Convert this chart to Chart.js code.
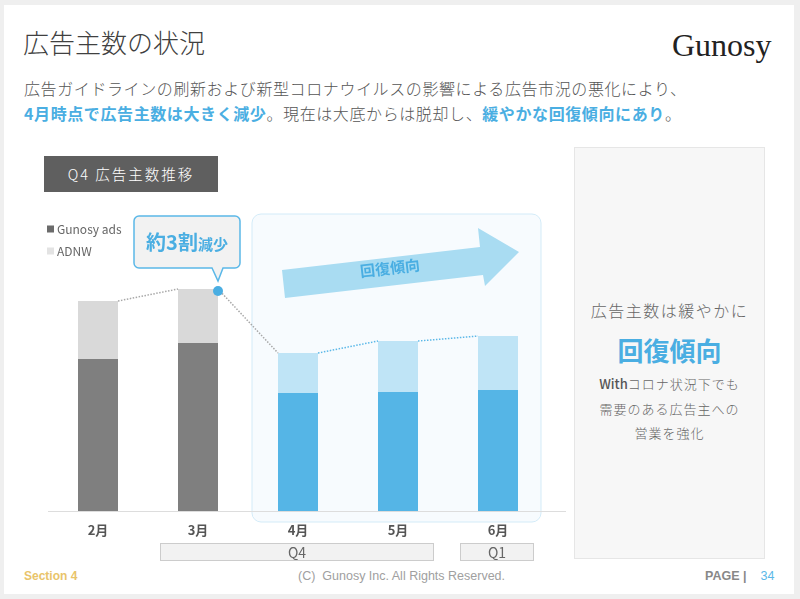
<!DOCTYPE html>
<html lang="ja">
<head>
<meta charset="utf-8">
<title>広告主数の状況</title>
<script src="https://cdn.jsdelivr.net/npm/chart.js@4.4.1/dist/chart.umd.min.js"></script>
<style>
    html, body { margin: 0; padding: 0; }
    body {
        width: 800px; height: 599px; position: relative; overflow: hidden;
        background: #efefef;
        font-family: "Noto Sans CJK JP", "Noto Sans", sans-serif;
    }
    #page { position: absolute; left: 4px; top: 5px; width: 790px; height: 589px; background: #fff; }
    .abs { position: absolute; white-space: nowrap; }
    #title { left: 23px; top: 24px; font-size: 26px; line-height: 36px; color: #404040; font-weight: 300; }
    #logo { left: 672px; top: 25px; font-family: "Liberation Serif", serif; font-size: 32px; line-height: 40px; color: #222; }
    .lead { left: 24px; font-size: 16px; line-height: 22px; color: #555; letter-spacing: 0.6px; font-weight: 300; }
    .lead b { color: #4aaee2; font-weight: bold; }
    #subtitle {
        left: 44px; top: 156px; width: 174px; height: 36px; background: #5f5f5f;
        color: #fff; font-size: 14.5px; line-height: 36px; text-align: center; letter-spacing: 2px; font-weight: 300;
    }
    #side {
        left: 574px; top: 147px; width: 189px; height: 410px;
        background: #f7f7f7; border: 1px solid #e6e6e6; text-align: center; color: #555;
    }
    #side .s1 { position: absolute; left: 0; right: 0; top: 150px; font-size: 16px; line-height: 24px; letter-spacing: 1.5px; color: #666; font-weight: 300; }
    #side .s2 { position: absolute; left: 0; right: 0; top: 185px; font-size: 26px; line-height: 34px; font-weight: bold; color: #4aaee2; }
    #side .s3 { position: absolute; left: 0; right: 0; top: 224px; font-size: 13px; line-height: 24.5px; letter-spacing: 1px; color: #666; font-weight: 300; }
    #side .s3 b { color: #555; letter-spacing: 0; font-weight: 500; }
    #foot-sec { left: 24px; top: 568px; font-size: 12px; line-height: 16px; font-weight: bold; color: #e9c46a; font-family: "Liberation Sans Narrow", "Liberation Sans", sans-serif; }
    #foot-copy { left: 298px; top: 568px; font-size: 12.5px; line-height: 16px; color: #a0a0a0; font-family: "Liberation Sans Narrow", "Liberation Sans", sans-serif; }
    #foot-page { left: 705px; top: 568px; font-size: 12.5px; line-height: 16px; color: #888; font-weight: bold; font-family: "Liberation Sans Narrow", "Liberation Sans", sans-serif; }
    #foot-page span { color: #5bb8e8; font-weight: normal; margin-left: 14px; }
    #chart { position: absolute; left: 0; top: 0; width: 800px; height: 599px; }
</style>
</head>
<body>
<div id="page"></div>
<div class="abs" id="title">広告主数の状況</div>
<div class="abs" id="logo">Gunosy</div>
<div class="abs lead" style="top:77px">広告ガイドラインの刷新および新型コロナウイルスの影響による広告市況の悪化により、</div>
<div class="abs lead" style="top:102px"><b>4月時点で広告主数は大きく減少</b>。現在は大底からは脱却し、<b>緩やかな回復傾向にあり</b>。</div>
<div class="abs" id="subtitle">Q4 広告主数推移</div>
<div class="abs" id="side">
    <div class="s1">広告主数は緩やかに</div>
    <div class="s2">回復傾向</div>
    <div class="s3"><b>With</b>コロナ状況下でも<br>需要のある広告主への<br>営業を強化</div>
</div>
<div class="abs" id="foot-sec">Section 4</div>
<div class="abs" id="foot-copy">(C)&nbsp;&nbsp;Gunosy Inc. All Rights Reserved.</div>
<div class="abs" id="foot-page">PAGE |<span>34</span></div>
<canvas id="chart" width="800" height="599"></canvas>

<script>
// Chart data (index)
var months       = ['2月', '3月', '4月', '5月', '6月'];
var gunosyAds    = [152, 168, 118, 119, 121];
var adnw         = [58, 54, 40, 51, 54];
var quarterNames = ['Q4', 'Q1'];
var quarterFrom  = [1, 4];
var quarterTo    = [3, 4];

// Colours: grey before the drop, blue for the recovery months
var darkColors  = ['#7f7f7f', '#7f7f7f', '#55b5e6', '#55b5e6', '#55b5e6'];
var lightColors = ['#d9d9d9', '#d9d9d9', '#bfe4f6', '#bfe4f6', '#bfe4f6'];
var legendColors = ['#6b6b6b', '#e3e3e3'];
var BLUE = '#4aaee2';

/**
 * Draws the slide decorations around the bars
 */
var decorPlugin = {
    id: 'decor',
    beforeDatasetsDraw(chart) {
        var ctx = chart.ctx;
        var x = chart.scales.x;
        var area = chart.chartArea;

        ctx.save();

        // Recovery frame behind Apr - Jun
        var left = x.getPixelForValue(2) - 46;
        var right = x.getPixelForValue(4) + 43;
        ctx.beginPath();
        ctx.roundRect(left, 214, right - left, 308, 9);
        ctx.fillStyle = '#f7fbfe';
        ctx.fill();
        ctx.strokeStyle = '#d3ebf8';
        ctx.lineWidth = 1;
        ctx.stroke();

        // Arrow
        ctx.beginPath();
        ctx.moveTo(282, 270);
        ctx.lineTo(480, 247);
        ctx.lineTo(478, 228);
        ctx.lineTo(519, 252);
        ctx.lineTo(485, 286);
        ctx.lineTo(483, 275);
        ctx.lineTo(285, 298);
        ctx.closePath();
        ctx.fillStyle = '#a9dcf2';
        ctx.fill();

        ctx.translate(390, 268);
        ctx.rotate(-0.115);
        ctx.fillStyle = BLUE;
        ctx.font = 'bold 15px "Noto Sans CJK JP"';
        ctx.textAlign = 'center';
        ctx.textBaseline = 'middle';
        ctx.fillText('回復傾向', 0, 0);
        ctx.setTransform(1, 0, 0, 1, 0, 0);

        // Baseline
        ctx.beginPath();
        ctx.moveTo(area.left, area.bottom + 0.5);
        ctx.lineTo(566, area.bottom + 0.5);
        ctx.strokeStyle = '#dddddd';
        ctx.stroke();

        ctx.restore();
    },
    afterDatasetsDraw(chart) {
        var ctx = chart.ctx;
        var x = chart.scales.x;
        var bars = chart.getDatasetMeta(1).data;

        ctx.save();

        // Dotted lines between the bar tops
        ctx.setLineDash([1.5, 1.5]);
        ctx.lineWidth = 1.5;
        for (var i = 0; i < bars.length - 1; i++) {
            var a = bars[i], b = bars[i + 1];
            ctx.beginPath();
            ctx.moveTo(a.x + a.width / 2, a.y);
            ctx.lineTo(b.x - b.width / 2, b.y);
            ctx.strokeStyle = i < 2 ? '#a8a8a8' : '#5bb8e8';
            ctx.stroke();
        }
        ctx.setLineDash([]);

        // Marker on March
        var mar = bars[1];
        var dotX = mar.x + mar.width / 2, dotY = mar.y + 2;
        ctx.beginPath();
        ctx.arc(dotX, dotY, 5, 0, Math.PI * 2);
        ctx.fillStyle = BLUE;
        ctx.fill();

        // Callout
        ctx.beginPath();
        ctx.moveTo(139, 216);
        ctx.lineTo(235, 216);
        ctx.arcTo(240, 216, 240, 221, 5);
        ctx.lineTo(240, 263);
        ctx.arcTo(240, 268, 235, 268, 5);
        ctx.lineTo(dotX + 5, 268);
        ctx.lineTo(dotX, 281);
        ctx.lineTo(dotX - 6, 268);
        ctx.lineTo(139, 268);
        ctx.arcTo(134, 268, 134, 263, 5);
        ctx.lineTo(134, 221);
        ctx.arcTo(134, 216, 139, 216, 5);
        ctx.closePath();
        ctx.fillStyle = '#f2f2f2';
        ctx.fill();
        ctx.strokeStyle = '#5bb8e8';
        ctx.lineWidth = 1.5;
        ctx.stroke();

        ctx.fillStyle = BLUE;
        ctx.textBaseline = 'alphabetic';
        ctx.font = 'bold 20px "Noto Sans CJK JP"';
        var w1 = ctx.measureText('約3割').width;
        ctx.font = 'bold 15px "Noto Sans CJK JP"';
        var w2 = ctx.measureText('減少').width;
        var sx = 187 - (w1 + w2) / 2;
        ctx.font = 'bold 20px "Noto Sans CJK JP"';
        ctx.fillText('約3割', sx, 250);
        ctx.font = 'bold 15px "Noto Sans CJK JP"';
        ctx.fillText('減少', sx + w1, 250);

        // Legend
        ctx.font = '12px "Noto Sans CJK JP"';
        ctx.textBaseline = 'middle';
        chart.data.datasets.forEach(function (ds, k) {
            var ly = 229 + k * 22;
            ctx.fillStyle = legendColors[k];
            ctx.fillRect(47, ly - 3.5, 7, 7);
            ctx.fillStyle = '#666';
            ctx.fillText(ds.label, 57, ly);
        });

        // Quarter boxes under the month labels
        ctx.font = '14px "Noto Sans CJK JP"';
        ctx.textAlign = 'center';
        quarterNames.forEach(function (q, k) {
            var l = x.getPixelForValue(quarterFrom[k]) - 38;
            var r = x.getPixelForValue(quarterTo[k]) + 36;
            ctx.fillStyle = '#f2f2f2';
            ctx.fillRect(l, 543, r - l, 18);
            ctx.strokeStyle = '#cccccc';
            ctx.lineWidth = 1;
            ctx.strokeRect(l + 0.5, 543.5, r - l - 1, 17);
            ctx.fillStyle = '#666';
            ctx.fillText(q, (l + r) / 2, 552.5);
        });

        ctx.restore();
    }
};

// Print chart
var ctx = document.getElementById('chart').getContext('2d');
window.myBar = new Chart(ctx, {
    type: 'bar',
    data: {
        labels: months,
        datasets: [{
            label: 'Gunosy ads',
            data: gunosyAds,
            backgroundColor: darkColors,
            borderWidth: 0,
            barPercentage: 0.4,
            categoryPercentage: 1
        }, {
            label: 'ADNW',
            data: adnw,
            backgroundColor: lightColors,
            borderWidth: 0,
            barPercentage: 0.4,
            categoryPercentage: 1
        }]
    },
    options: {
        responsive: false,
        animation: false,
        layout: {
            padding: { left: 48, right: 252, top: 211, bottom: 0 }
        },
        plugins: {
            legend: { display: false },
            tooltip: { enabled: false }
        },
        scales: {
            x: {
                stacked: true,
                grid: { display: false, drawTicks: false },
                border: { display: false },
                afterFit: function (scale) { scale.height = 88; },
                ticks: {
                    padding: 11,
                    color: '#555',
                    font: { size: 13, weight: 'bold', family: '"Noto Sans CJK JP"' }
                }
            },
            y: {
                stacked: true,
                display: false,
                min: 0,
                max: 300
            }
        }
    },
    plugins: [decorPlugin]
});
</script>
</body>
</html>
